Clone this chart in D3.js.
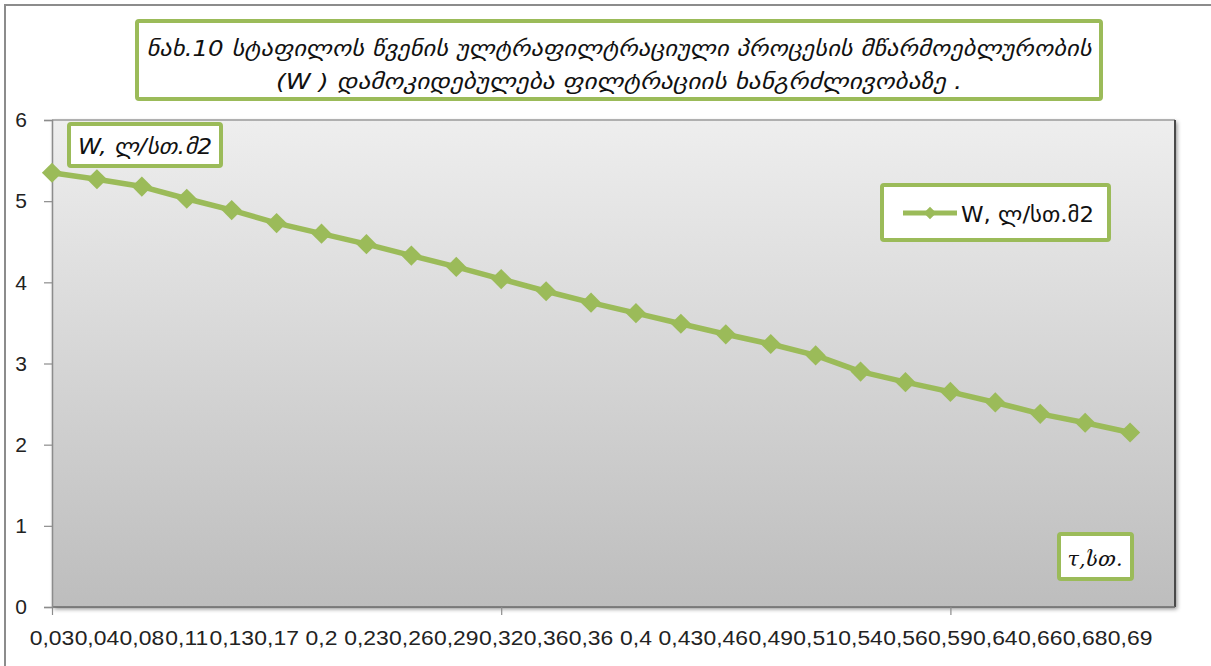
<!DOCTYPE html>
<html>
<head>
<meta charset="utf-8">
<script src="https://cdn.jsdelivr.net/npm/d3@7/dist/d3.min.js"></script>
<style>
  html, body { margin: 0; padding: 0; background: #fff; }
  svg { display: block; }
</style>
</head>
<body>
<svg id="chart" width="1211" height="666"></svg>
<script>
// ---- data ----
const categories = ["0,03","0,04","0,08","0,11","0,13","0,17","0,2","0,23","0,26","0,29","0,32","0,36","0,36","0,4","0,43","0,46","0,49","0,51","0,54","0,56","0,59","0,64","0,66","0,68","0,69"];
const values = [5.35,5.27,5.18,5.03,4.89,4.73,4.60,4.47,4.33,4.19,4.04,3.89,3.75,3.62,3.49,3.36,3.24,3.10,2.90,2.77,2.65,2.52,2.38,2.27,2.15];
const yTicks = [0,1,2,3,4,5,6];
const xTickMarks = [0,10,20];
const titleLines = ["ნახ.10 სტაფილოს წვენის ულტრაფილტრაციული პროცესის მწარმოებლურობის", "(W ) დამოკიდებულება ფილტრაციის ხანგრძლივობაზე ."];
const seriesName = "W, ლ/სთ.მ2";
const yAxisTitle = "W, ლ/სთ.მ2";
const xAxisTitle = "τ,სთ.";

// ---- setup ----
const GREEN = "#9BBB59";
const svg = d3.select("#chart");
const plot = {left: 52, right: 1175, top: 120, bottom: 607};

const defs = svg.append("defs");
const grad = defs.append("linearGradient").attr("id","bg").attr("x1",0).attr("y1",0).attr("x2",0).attr("y2",1);
grad.append("stop").attr("offset","0%").attr("stop-color","#eeeeee");
grad.append("stop").attr("offset","100%").attr("stop-color","#bdbdbd");
const shadow = defs.append("filter").attr("id","shadow").attr("x","-5%").attr("y","-5%").attr("width","110%").attr("height","115%");
shadow.append("feDropShadow").attr("dx",2).attr("dy",2).attr("stdDeviation",2).attr("flood-color","#000").attr("flood-opacity",0.45);

// outer chart border (only top-left visible)
svg.append("rect").attr("x",5).attr("y",5).attr("width",1300).attr("height",800)
  .attr("fill","none").attr("stroke","#8c8c8c").attr("stroke-width",2);

const x = d3.scaleLinear().domain([0, categories.length]).range([plot.left, plot.right]);
const y = d3.scaleLinear().domain([0, 6]).range([plot.bottom, plot.top]);

// plot area
svg.append("rect").attr("x",plot.left).attr("y",plot.top)
  .attr("width",plot.right-plot.left).attr("height",plot.bottom-plot.top)
  .attr("fill","url(#bg)").attr("filter","url(#shadow)");
svg.append("line").attr("x1",plot.left).attr("x2",plot.right).attr("y1",plot.top).attr("y2",plot.top)
  .attr("stroke","#9a9a9a").attr("stroke-width",1.5);
svg.append("line").attr("x1",plot.right).attr("x2",plot.right).attr("y1",plot.top).attr("y2",plot.bottom)
  .attr("stroke","#4a4a4a").attr("stroke-width",2);
svg.append("line").attr("x1",plot.left).attr("x2",plot.right).attr("y1",plot.bottom).attr("y2",plot.bottom)
  .attr("stroke","#6a6a6a").attr("stroke-width",1.5);

// y axis
const yAxis = d3.axisLeft(y).tickValues(yTicks).tickSize(8).tickPadding(17).tickFormat(d => d);
const gy = svg.append("g").attr("transform",`translate(${plot.left},0)`).call(yAxis);
gy.select(".domain").attr("stroke","#8c8c8c").attr("stroke-width",1.5);
gy.selectAll(".tick line").attr("stroke","#8c8c8c").attr("stroke-width",1.2);
gy.selectAll(".tick text").attr("font-family","'Liberation Sans', Arial, sans-serif")
  .attr("font-size",21).attr("fill","#222");

// x axis (tick marks only)
const xAxis = d3.axisBottom(x).tickValues(xTickMarks).tickSize(8).tickFormat("");
const gx = svg.append("g").attr("transform",`translate(0,${plot.bottom})`).call(xAxis);
gx.select(".domain").remove();
gx.selectAll(".tick line").attr("stroke","#8c8c8c").attr("stroke-width",1.2);

// category labels
const labelG = svg.append("g");
const labels = labelG.selectAll("text").data(categories).join("text")
  .attr("font-family","'Liberation Sans', Arial, sans-serif")
  .attr("font-size",21).attr("fill","#222").attr("text-anchor","middle")
  .text(d => d);
const refW = labels.filter(d => d.length === 4).node().getComputedTextLength();
const sx = 44.6 / refW;
labels.attr("transform",(d,i) => `translate(${x(i)},645) scale(${sx},1)`);

// line
const line = d3.line().x((d,i) => x(i)).y(d => y(d));
svg.append("path").datum(values).attr("d",line)
  .attr("fill","none").attr("stroke",GREEN).attr("stroke-width",5.5).attr("stroke-linejoin","round");
const diamond = d3.symbol().type(d3.symbolDiamond2).size(260);
svg.append("g").selectAll("path").data(values).join("path")
  .attr("d",diamond).attr("fill",GREEN)
  .attr("transform",(d,i) => `translate(${x(i)},${y(d)})`);

// boxed text helper
function box(x0,y0,w,h){
  svg.append("rect").attr("x",x0).attr("y",y0).attr("width",w).attr("height",h)
    .attr("rx",2).attr("fill","#fff").attr("stroke",GREEN).attr("stroke-width",4);
}

// title
box(137,21,964,78);
svg.append("text").attr("x",619).attr("y",56).attr("text-anchor","middle")
  .attr("font-family","'DejaVu Sans', sans-serif").attr("font-style","italic").attr("font-size",22)
  .attr("textLength",945).attr("lengthAdjust","spacingAndGlyphs").attr("fill","#111").text(titleLines[0]);
svg.append("text").attr("x",619).attr("y",89).attr("text-anchor","middle")
  .attr("font-family","'DejaVu Sans', sans-serif").attr("font-style","italic").attr("font-size",22)
  .attr("textLength",686).attr("lengthAdjust","spacingAndGlyphs").attr("fill","#111").text(titleLines[1]);

// y axis title
box(69,124,152,42);
svg.append("text").attr("x",145).attr("y",154).attr("text-anchor","middle")
  .attr("font-family","'DejaVu Sans', sans-serif").attr("font-style","italic").attr("font-size",21)
  .attr("textLength",134).attr("lengthAdjust","spacingAndGlyphs").attr("fill","#111").text(yAxisTitle);

// x axis title
box(1059,534,73,45);
svg.append("text").attr("x",1095).attr("y",566).attr("text-anchor","middle")
  .attr("font-family","'DejaVu Serif', serif").attr("font-style","italic").attr("font-size",21)
  .attr("textLength",55).attr("lengthAdjust","spacingAndGlyphs").attr("fill","#111").text(xAxisTitle);

// legend
box(882,185,227,55);
svg.append("line").attr("x1",903).attr("x2",957).attr("y1",213).attr("y2",213)
  .attr("stroke",GREEN).attr("stroke-width",5);
svg.append("path").attr("d",d3.symbol().type(d3.symbolDiamond2).size(100)).attr("fill",GREEN)
  .attr("transform","translate(930,213)");
svg.append("text").attr("x",961).attr("y",222)
  .attr("font-family","'DejaVu Sans', sans-serif").attr("font-size",21)
  .attr("textLength",133).attr("lengthAdjust","spacingAndGlyphs").attr("fill","#111").text(seriesName);
</script>
</body>
</html>
